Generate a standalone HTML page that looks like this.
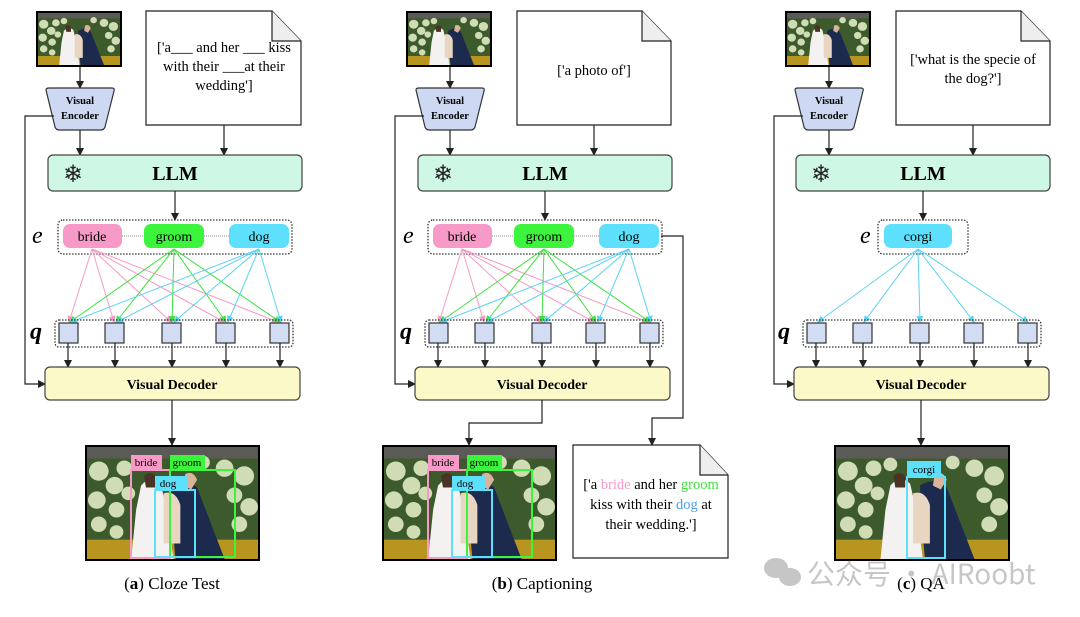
<!DOCTYPE html>
<html><head><meta charset="utf-8"><style>
html,body{margin:0;padding:0;background:#fff;}
svg{display:block;}
.t{font-family:"Liberation Serif",serif;}
</style></head><body>
<svg width="1080" height="617" viewBox="0 0 1080 617" xmlns="http://www.w3.org/2000/svg" class="t">
<defs>
<marker id="ak" markerWidth="8" markerHeight="8" refX="7" refY="4" orient="auto" markerUnits="userSpaceOnUse"><path d="M0,0 L8,4 L0,8z" fill="#222"/></marker>
<marker id="ap" markerWidth="7" markerHeight="7" refX="6" refY="3.5" orient="auto" markerUnits="userSpaceOnUse"><path d="M0,0 L7,3.5 L0,7z" fill="#f59ac6"/></marker>
<marker id="ag" markerWidth="7" markerHeight="7" refX="6" refY="3.5" orient="auto" markerUnits="userSpaceOnUse"><path d="M0,0 L7,3.5 L0,7z" fill="#3de23d"/></marker>
<marker id="ac" markerWidth="7" markerHeight="7" refX="6" refY="3.5" orient="auto" markerUnits="userSpaceOnUse"><path d="M0,0 L7,3.5 L0,7z" fill="#5ad2f2"/></marker>
<symbol id="photo" viewBox="0 0 174 116" preserveAspectRatio="none">
<rect width="174" height="116" fill="#3d5a2c"/>
<rect width="174" height="12" fill="#5a5a56"/>
<g fill="#cfdcb4">
<circle cx="12" cy="25" r="10"/><circle cx="28" cy="40" r="9"/><circle cx="10" cy="55" r="9"/><circle cx="30" cy="65" r="8"/><circle cx="12" cy="80" r="8"/><circle cx="38" cy="22" r="8"/><circle cx="55" cy="18" r="7"/><circle cx="42" cy="48" r="7"/>
<circle cx="118" cy="16" r="7"/><circle cx="140" cy="22" r="9"/><circle cx="160" cy="30" r="10"/><circle cx="150" cy="50" r="8"/><circle cx="165" cy="62" r="9"/><circle cx="155" cy="80" r="8"/><circle cx="30" cy="88" r="7"/>
</g>
<rect y="96" width="174" height="20" fill="#b8951e"/>
<path d="M55,40 Q65,28 75,38 L80,60 L88,116 L45,116 L50,65z" fill="#f4f2f0"/>
<path d="M58,30 Q64,24 70,30 L70,42 L60,42z" fill="#4a3426"/>
<path d="M85,40 Q100,30 112,42 L140,116 L90,116 L86,70z" fill="#1c2a4e"/>
<path d="M100,28 Q108,24 112,34 L106,44 L98,40z" fill="#d9b39a"/>
<path d="M78,48 Q90,44 95,60 L95,100 L78,100z" fill="#e8d6c2"/>
</symbol>
</defs>

<!-- PANEL A -->
<g>
<rect x="36" y="11" width="86" height="56" fill="#000"/><use href="#photo" x="38" y="13" width="82" height="52"/>
<line x1="80" y1="67" x2="80" y2="88" stroke="#222" stroke-width="1.2" marker-end="url(#ak)"/>
<path d="M46,90 Q46,88 49,88 L112,88 Q115,88 114,91 L105,127 Q104,130 100,130 L60,130 Q56,130 55,127 Z" fill="#cdd8f2" stroke="#333" stroke-width="1.2"/>
<text x="80" y="104" font-size="10.5" font-weight="bold" text-anchor="middle">Visual</text>
<text x="80" y="119" font-size="10.5" font-weight="bold" text-anchor="middle">Encoder</text>
<line x1="80" y1="130" x2="80" y2="155" stroke="#222" stroke-width="1.2" marker-end="url(#ak)"/>
<path d="M146,11 L272,11 L301,41 L301,125 L146,125 Z" fill="#fff" stroke="#222" stroke-width="1.2"/>
<path d="M272,11 L272,41 L301,41" fill="#eee" stroke="#222" stroke-width="1.2"/>
<text x="224" y="52" font-size="14.5" text-anchor="middle">['a___ and her ___ kiss</text>
<text x="224" y="71" font-size="14.5" text-anchor="middle">with their ___at their</text>
<text x="224" y="90" font-size="14.5" text-anchor="middle">wedding']</text>
<line x1="224" y1="125" x2="224" y2="155" stroke="#222" stroke-width="1.2" marker-end="url(#ak)"/>
<rect x="48" y="155" width="254" height="36" rx="5" fill="#cff8e4" stroke="#444" stroke-width="1.2"/>
<text x="63" y="182" font-size="24" fill="#222">❄</text>
<text x="175" y="180" font-size="20" font-weight="bold" text-anchor="middle">LLM</text>
<line x1="175" y1="191" x2="175" y2="220" stroke="#222" stroke-width="1.2" marker-end="url(#ak)"/>
<text x="32" y="243" font-size="24" font-style="italic">e</text>
<rect x="58" y="220" width="234" height="34" rx="5" fill="none" stroke="#333" stroke-width="1.3" stroke-dasharray="1.5,1.5"/>
<line x1="122" y1="236" x2="230" y2="236" stroke="#888" stroke-width="1" stroke-dasharray="1,1"/>
<rect x="63" y="224" width="59" height="24" rx="7" fill="#f79ac8"/><text x="92" y="241" font-size="14" text-anchor="middle">bride</text>
<rect x="144" y="224" width="60" height="24" rx="7" fill="#3cf43c"/><text x="174" y="241" font-size="14" text-anchor="middle">groom</text>
<rect x="229" y="224" width="60" height="24" rx="7" fill="#5ce0fc"/><text x="259" y="241" font-size="14" text-anchor="middle">dog</text>
<g stroke-width="1">
<g stroke="#f59ac6" marker-end="url(#ap)"><line x1="92" y1="249" x2="69" y2="322"/><line x1="92" y1="249" x2="114" y2="322"/><line x1="92" y1="249" x2="171" y2="322"/><line x1="92" y1="249" x2="224" y2="322"/><line x1="92" y1="249" x2="278" y2="322"/></g>
<g stroke="#3de23d" marker-end="url(#ag)"><line x1="174" y1="249" x2="70" y2="322"/><line x1="174" y1="249" x2="116" y2="322"/><line x1="174" y1="249" x2="172" y2="322"/><line x1="174" y1="249" x2="226" y2="322"/><line x1="174" y1="249" x2="280" y2="322"/></g>
<g stroke="#5ad2f2" marker-end="url(#ac)"><line x1="259" y1="249" x2="71" y2="322"/><line x1="259" y1="249" x2="117" y2="322"/><line x1="259" y1="249" x2="174" y2="322"/><line x1="259" y1="249" x2="228" y2="322"/><line x1="259" y1="249" x2="281" y2="322"/></g>
</g>
<text x="30" y="339" font-size="24" font-style="italic" font-weight="bold">q</text>
<rect x="55" y="320" width="238" height="27" rx="4" fill="none" stroke="#333" stroke-width="1.3" stroke-dasharray="1.5,1.5"/>
<g fill="#d2dcf2" stroke="#333" stroke-width="1.2">
<rect x="59" y="323" width="19" height="20"/><rect x="105" y="323" width="19" height="20"/><rect x="162" y="323" width="19" height="20"/><rect x="216" y="323" width="19" height="20"/><rect x="270" y="323" width="19" height="20"/></g>
<g stroke="#222" stroke-width="1.2" marker-end="url(#ak)">
<line x1="68" y1="343" x2="68" y2="367"/><line x1="115" y1="343" x2="115" y2="367"/><line x1="172" y1="343" x2="172" y2="367"/><line x1="226" y1="343" x2="226" y2="367"/><line x1="280" y1="343" x2="280" y2="367"/></g>
<polyline points="54,116 25,116 25,384 45,384" fill="none" stroke="#222" stroke-width="1.2" marker-end="url(#ak)"/>
<rect x="45" y="367" width="255" height="33" rx="5" fill="#fcf9c8" stroke="#444" stroke-width="1.2"/>
<text x="172" y="389" font-size="14" font-weight="bold" text-anchor="middle">Visual Decoder</text>
<line x1="172" y1="400" x2="172" y2="445" stroke="#222" stroke-width="1.2" marker-end="url(#ak)"/>
<rect x="85" y="445" width="175" height="116" fill="#000"/><use href="#photo" x="87" y="447" width="171" height="112"/>
<rect x="131" y="470" width="39" height="88" fill="none" stroke="#f79ac8" stroke-width="2"/>
<rect x="170" y="470" width="65" height="87" fill="none" stroke="#3cf43c" stroke-width="2"/>
<rect x="155" y="490" width="40" height="67" fill="none" stroke="#5ce0fc" stroke-width="2"/>
<rect x="131" y="455" width="31" height="14" fill="#f79ac8"/><text x="146" y="466" font-size="11" text-anchor="middle">bride</text>
<rect x="170" y="455" width="35" height="14" fill="#3cf43c"/><text x="187" y="466" font-size="11" text-anchor="middle">groom</text>
<rect x="155" y="476" width="33" height="14" fill="#5ce0fc"/><text x="168" y="487" font-size="11" text-anchor="middle">dog</text>
<text x="172" y="589" font-size="17" text-anchor="middle">(<tspan font-weight="bold">a</tspan>) Cloze Test</text>
</g>

<!-- PANEL B -->
<g>
<rect x="406" y="11" width="86" height="56" fill="#000"/><use href="#photo" x="408" y="13" width="82" height="52"/>
<line x1="450" y1="67" x2="450" y2="88" stroke="#222" stroke-width="1.2" marker-end="url(#ak)"/>
<path d="M416,90 Q416,88 419,88 L482,88 Q485,88 484,91 L475,127 Q474,130 470,130 L430,130 Q426,130 425,127 Z" fill="#cdd8f2" stroke="#333" stroke-width="1.2"/>
<text x="450" y="104" font-size="10.5" font-weight="bold" text-anchor="middle">Visual</text>
<text x="450" y="119" font-size="10.5" font-weight="bold" text-anchor="middle">Encoder</text>
<line x1="450" y1="130" x2="450" y2="155" stroke="#222" stroke-width="1.2" marker-end="url(#ak)"/>
<path d="M517,11 L642,11 L671,41 L671,125 L517,125 Z" fill="#fff" stroke="#222" stroke-width="1.2"/>
<path d="M642,11 L642,41 L671,41" fill="#eee" stroke="#222" stroke-width="1.2"/>
<text x="594" y="75" font-size="14.5" text-anchor="middle">['a photo of']</text>
<line x1="594" y1="125" x2="594" y2="155" stroke="#222" stroke-width="1.2" marker-end="url(#ak)"/>
<rect x="418" y="155" width="254" height="36" rx="5" fill="#cff8e4" stroke="#444" stroke-width="1.2"/>
<text x="433" y="182" font-size="24" fill="#222">❄</text>
<text x="545" y="180" font-size="20" font-weight="bold" text-anchor="middle">LLM</text>
<line x1="545" y1="191" x2="545" y2="220" stroke="#222" stroke-width="1.2" marker-end="url(#ak)"/>
<text x="403" y="243" font-size="24" font-style="italic">e</text>
<rect x="428" y="220" width="234" height="34" rx="5" fill="none" stroke="#333" stroke-width="1.3" stroke-dasharray="1.5,1.5"/>
<line x1="492" y1="236" x2="600" y2="236" stroke="#888" stroke-width="1" stroke-dasharray="1,1"/>
<rect x="433" y="224" width="59" height="24" rx="7" fill="#f79ac8"/><text x="462" y="241" font-size="14" text-anchor="middle">bride</text>
<rect x="514" y="224" width="60" height="24" rx="7" fill="#3cf43c"/><text x="544" y="241" font-size="14" text-anchor="middle">groom</text>
<rect x="599" y="224" width="60" height="24" rx="7" fill="#5ce0fc"/><text x="629" y="241" font-size="14" text-anchor="middle">dog</text>
<g stroke-width="1">
<g stroke="#f59ac6" marker-end="url(#ap)"><line x1="462" y1="249" x2="439" y2="322"/><line x1="462" y1="249" x2="484" y2="322"/><line x1="462" y1="249" x2="541" y2="322"/><line x1="462" y1="249" x2="594" y2="322"/><line x1="462" y1="249" x2="648" y2="322"/></g>
<g stroke="#3de23d" marker-end="url(#ag)"><line x1="544" y1="249" x2="440" y2="322"/><line x1="544" y1="249" x2="486" y2="322"/><line x1="544" y1="249" x2="542" y2="322"/><line x1="544" y1="249" x2="596" y2="322"/><line x1="544" y1="249" x2="650" y2="322"/></g>
<g stroke="#5ad2f2" marker-end="url(#ac)"><line x1="629" y1="249" x2="441" y2="322"/><line x1="629" y1="249" x2="487" y2="322"/><line x1="629" y1="249" x2="544" y2="322"/><line x1="629" y1="249" x2="598" y2="322"/><line x1="629" y1="249" x2="651" y2="322"/></g>
</g>
<text x="400" y="339" font-size="24" font-style="italic" font-weight="bold">q</text>
<rect x="425" y="320" width="238" height="27" rx="4" fill="none" stroke="#333" stroke-width="1.3" stroke-dasharray="1.5,1.5"/>
<g fill="#d2dcf2" stroke="#333" stroke-width="1.2">
<rect x="429" y="323" width="19" height="20"/><rect x="475" y="323" width="19" height="20"/><rect x="532" y="323" width="19" height="20"/><rect x="586" y="323" width="19" height="20"/><rect x="640" y="323" width="19" height="20"/></g>
<g stroke="#222" stroke-width="1.2" marker-end="url(#ak)">
<line x1="438" y1="343" x2="438" y2="367"/><line x1="485" y1="343" x2="485" y2="367"/><line x1="542" y1="343" x2="542" y2="367"/><line x1="596" y1="343" x2="596" y2="367"/><line x1="650" y1="343" x2="650" y2="367"/></g>
<polyline points="424,116 395,116 395,384 415,384" fill="none" stroke="#222" stroke-width="1.2" marker-end="url(#ak)"/>
<rect x="415" y="367" width="255" height="33" rx="5" fill="#fcf9c8" stroke="#444" stroke-width="1.2"/>
<text x="542" y="389" font-size="14" font-weight="bold" text-anchor="middle">Visual Decoder</text>
<polyline points="542,400 542,423 469,423 469,445" fill="none" stroke="#222" stroke-width="1.2" marker-end="url(#ak)"/>
<polyline points="661,236 683,236 683,418 652,418 652,445" fill="none" stroke="#222" stroke-width="1.2" marker-end="url(#ak)"/>
<rect x="382" y="445" width="175" height="116" fill="#000"/><use href="#photo" x="384" y="447" width="171" height="112"/>
<rect x="428" y="470" width="39" height="88" fill="none" stroke="#f79ac8" stroke-width="2"/>
<rect x="467" y="470" width="65" height="87" fill="none" stroke="#3cf43c" stroke-width="2"/>
<rect x="452" y="490" width="40" height="67" fill="none" stroke="#5ce0fc" stroke-width="2"/>
<rect x="428" y="455" width="31" height="14" fill="#f79ac8"/><text x="443" y="466" font-size="11" text-anchor="middle">bride</text>
<rect x="467" y="455" width="35" height="14" fill="#3cf43c"/><text x="484" y="466" font-size="11" text-anchor="middle">groom</text>
<rect x="452" y="476" width="33" height="14" fill="#5ce0fc"/><text x="465" y="487" font-size="11" text-anchor="middle">dog</text>
<path d="M573,445 L700,445 L728,475 L728,558 L573,558 Z" fill="#fff" stroke="#222" stroke-width="1.2"/>
<path d="M700,445 L700,475 L728,475" fill="#eee" stroke="#222" stroke-width="1.2"/>
<text x="651" y="489" font-size="14.5" text-anchor="middle">['a <tspan fill="#f59ac6">bride</tspan> and her <tspan fill="#3de23d">groom</tspan></text>
<text x="651" y="509" font-size="14.5" text-anchor="middle">kiss with their <tspan fill="#4a9ef0">dog</tspan> at</text>
<text x="651" y="529" font-size="14.5" text-anchor="middle">their wedding.']</text>
<text x="542" y="589" font-size="17" text-anchor="middle">(<tspan font-weight="bold">b</tspan>) Captioning</text>
</g>

<!-- PANEL C -->
<g>
<rect x="785" y="11" width="86" height="56" fill="#000"/><use href="#photo" x="787" y="13" width="82" height="52"/>
<line x1="829" y1="67" x2="829" y2="88" stroke="#222" stroke-width="1.2" marker-end="url(#ak)"/>
<path d="M795,90 Q795,88 798,88 L861,88 Q864,88 863,91 L854,127 Q853,130 849,130 L809,130 Q805,130 804,127 Z" fill="#cdd8f2" stroke="#333" stroke-width="1.2"/>
<text x="829" y="104" font-size="10.5" font-weight="bold" text-anchor="middle">Visual</text>
<text x="829" y="119" font-size="10.5" font-weight="bold" text-anchor="middle">Encoder</text>
<line x1="829" y1="130" x2="829" y2="155" stroke="#222" stroke-width="1.2" marker-end="url(#ak)"/>
<path d="M896,11 L1021,11 L1050,41 L1050,125 L896,125 Z" fill="#fff" stroke="#222" stroke-width="1.2"/>
<path d="M1021,11 L1021,41 L1050,41" fill="#eee" stroke="#222" stroke-width="1.2"/>
<text x="973" y="64" font-size="14.5" text-anchor="middle">['what is the specie of</text>
<text x="973" y="83" font-size="14.5" text-anchor="middle">the dog?']</text>
<line x1="973" y1="125" x2="973" y2="155" stroke="#222" stroke-width="1.2" marker-end="url(#ak)"/>
<rect x="796" y="155" width="254" height="36" rx="5" fill="#cff8e4" stroke="#444" stroke-width="1.2"/>
<text x="811" y="182" font-size="24" fill="#222">❄</text>
<text x="923" y="180" font-size="20" font-weight="bold" text-anchor="middle">LLM</text>
<line x1="923" y1="191" x2="923" y2="220" stroke="#222" stroke-width="1.2" marker-end="url(#ak)"/>
<text x="860" y="243" font-size="24" font-style="italic">e</text>
<rect x="878" y="220" width="90" height="34" rx="5" fill="none" stroke="#333" stroke-width="1.3" stroke-dasharray="1.5,1.5"/>
<rect x="884" y="224" width="68" height="24" rx="7" fill="#5ce0fc"/><text x="918" y="241" font-size="14" text-anchor="middle">corgi</text>
<g stroke="#5ad2f2" stroke-width="1" marker-end="url(#ac)"><line x1="918" y1="249" x2="818" y2="322"/><line x1="918" y1="249" x2="864" y2="322"/><line x1="918" y1="249" x2="920" y2="322"/><line x1="918" y1="249" x2="974" y2="322"/><line x1="918" y1="249" x2="1028" y2="322"/></g>
<text x="778" y="339" font-size="24" font-style="italic" font-weight="bold">q</text>
<rect x="803" y="320" width="238" height="27" rx="4" fill="none" stroke="#333" stroke-width="1.3" stroke-dasharray="1.5,1.5"/>
<g fill="#d2dcf2" stroke="#333" stroke-width="1.2">
<rect x="807" y="323" width="19" height="20"/><rect x="853" y="323" width="19" height="20"/><rect x="910" y="323" width="19" height="20"/><rect x="964" y="323" width="19" height="20"/><rect x="1018" y="323" width="19" height="20"/></g>
<g stroke="#222" stroke-width="1.2" marker-end="url(#ak)">
<line x1="816" y1="343" x2="816" y2="367"/><line x1="863" y1="343" x2="863" y2="367"/><line x1="920" y1="343" x2="920" y2="367"/><line x1="974" y1="343" x2="974" y2="367"/><line x1="1028" y1="343" x2="1028" y2="367"/></g>
<polyline points="803,116 774,116 774,384 794,384" fill="none" stroke="#222" stroke-width="1.2" marker-end="url(#ak)"/>
<rect x="794" y="367" width="255" height="33" rx="5" fill="#fcf9c8" stroke="#444" stroke-width="1.2"/>
<text x="921" y="389" font-size="14" font-weight="bold" text-anchor="middle">Visual Decoder</text>
<line x1="921" y1="400" x2="921" y2="445" stroke="#222" stroke-width="1.2" marker-end="url(#ak)"/>
<rect x="834" y="445" width="176" height="116" fill="#000"/><use href="#photo" x="836" y="447" width="172" height="112"/>
<rect x="907" y="477" width="38" height="81" fill="none" stroke="#5ce0fc" stroke-width="2"/>
<rect x="907" y="461" width="34" height="16" fill="#5ce0fc"/><text x="924" y="473" font-size="11" text-anchor="middle">corgi</text>
<text x="921" y="589" font-size="17" text-anchor="middle">(<tspan font-weight="bold">c</tspan>) QA</text>
</g>

<!-- watermark -->
<g opacity="0.55" fill="#999">
<ellipse cx="776" cy="568" rx="12" ry="10"/><ellipse cx="790" cy="577" rx="11" ry="9"/>
<text x="807" y="584" font-size="28" font-family="'Noto Sans CJK SC',sans-serif">公众号 · AIRoobt</text>
</g>
</svg>
</body></html>
